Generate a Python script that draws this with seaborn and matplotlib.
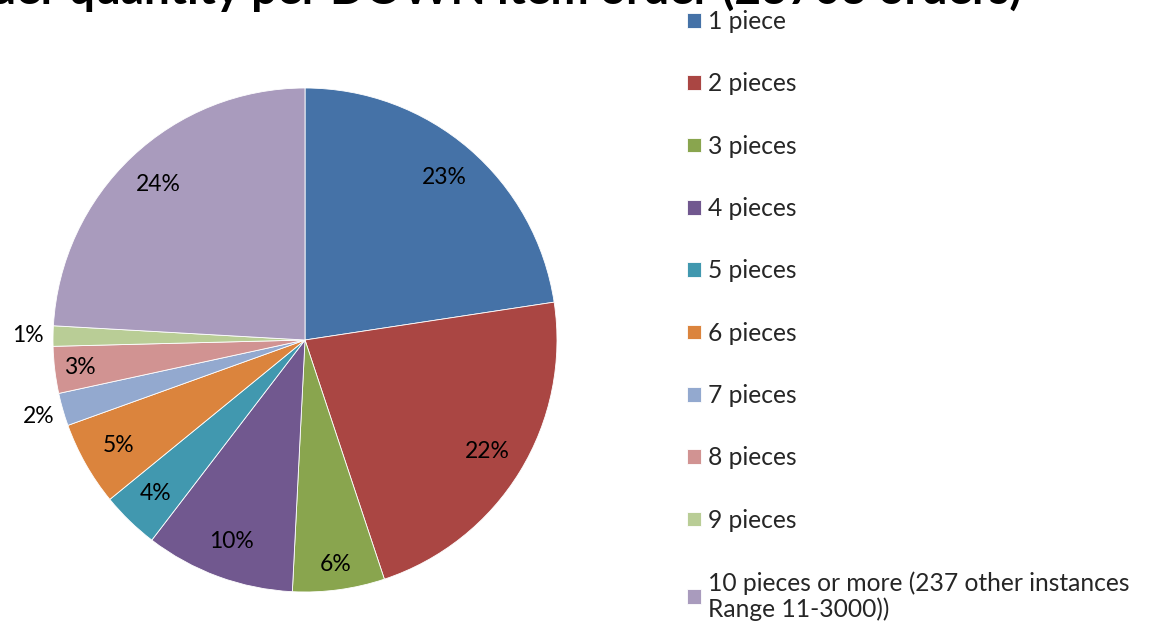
import matplotlib
matplotlib.use("Agg")
import matplotlib.pyplot as plt
import seaborn as sns
import numpy as np

sns.set_theme(style="white")
plt.rcParams['font.family'] = ['Lato', 'DejaVu Sans']

categories = ["1 piece", "2 pieces", "3 pieces", "4 pieces", "5 pieces",
              "6 pieces", "7 pieces", "8 pieces", "9 pieces",
              "10 pieces or more (237 other instances\nRange 11-3000))"]
values = [22.6, 22.3, 5.9, 9.6, 3.7, 5.4, 2.1, 3.0, 1.3, 24.1]
colors = ["#4572A7", "#AA4643", "#89A54E", "#71588F", "#4198AF",
          "#DB843D", "#93A9CF", "#D19392", "#B9CD96", "#A99BBD"]
label_dist = [0.85, 0.85, 0.9, 0.85, 0.85, 0.85, 1.1, 0.9, 1.1, 0.85]
title = "Order quantity per DOWN item order (23703 orders)"

fig = plt.figure(figsize=(11.49, 6.28), dpi=100)
ax = fig.add_axes([53/1149, 36/628, 504/1149, 504/628])

wedges, _ = ax.pie(values, colors=colors, startangle=90, counterclock=False,
                   radius=1, wedgeprops=dict(edgecolor="white", linewidth=0.6))
total = sum(values)
for w, v, d in zip(wedges, values, label_dist):
    ang = np.deg2rad((w.theta1 + w.theta2) / 2)
    ax.text(d * np.cos(ang), d * np.sin(ang), f"{v/total*100:.0f}%",
            ha="center", va="center", fontsize=16.5, color="black")
ax.set_xlim(-1, 1)
ax.set_ylim(-1, 1)
ax.set_aspect("equal")
ax.axis("off")

leg = fig.legend(wedges, categories, loc="upper left",
                 bbox_to_anchor=(687/1149, 1 - 10/628), frameon=False,
                 fontsize=17.7, handlelength=0.55, handleheight=0.55,
                 handletextpad=0.3, labelspacing=1.6, borderaxespad=0,
                 borderpad=0)
leg.get_texts()[-1].set_linespacing(1.15)

fig.text(1022/1149, 1 - 4/628, title, ha="right", va="baseline",
         fontsize=33, fontweight="bold", color="black")

fig.savefig("out.png", dpi=100)
